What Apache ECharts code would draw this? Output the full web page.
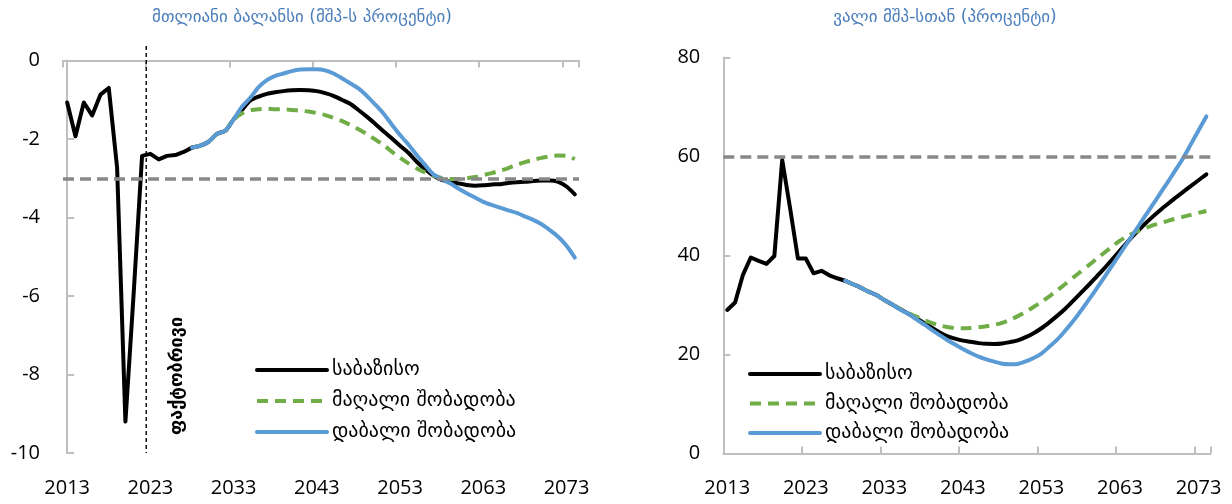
<!DOCTYPE html>
<html><head><meta charset="utf-8">
<script src="https://cdn.jsdelivr.net/npm/echarts@6/dist/echarts.min.js"></script>
<style>html,body{margin:0;padding:0;background:#fff}#c{width:1232px;height:504px}</style>
</head><body><div id="c"></div>
<script>
// ---------- data ----------
const years = []; for (let y = 2013; y <= 2074; y++) years.push(String(y));
const histEnd = 2028;      // last year of the historical/short-term black line
const projStart = 2028;    // first year of the scenario lines
const forecastYear = '2023';

const names = ['საბაზისო', 'მაღალი შობადობა', 'დაბალი შობადობა'];

// overall balance (% of GDP)
const balanceHistory = [-1.07, -1.93, -1.07, -1.40, -0.87, -0.70, -2.73, -9.2, -5.9, -2.43, -2.38, -2.52, -2.43, -2.41, -2.33, -2.22];
const balanceBaseline = [-2.22, -2.17, -2.07, -1.87, -1.79, -1.50, -1.26, -1.02, -0.92, -0.85, -0.81, -0.78, -0.76, -0.75, -0.76, -0.78, -0.83, -0.90, -1.00, -1.10, -1.26, -1.43, -1.61, -1.80, -1.98, -2.17, -2.35, -2.58, -2.77, -2.93, -3.04, -3.09, -3.13, -3.17, -3.19, -3.18, -3.16, -3.15, -3.12, -3.10, -3.09, -3.07, -3.06, -3.06, -3.09, -3.21, -3.41];
const balanceHigh = [-2.22, -2.17, -2.07, -1.87, -1.79, -1.50, -1.35, -1.27, -1.24, -1.23, -1.24, -1.24, -1.26, -1.28, -1.30, -1.34, -1.39, -1.46, -1.54, -1.64, -1.75, -1.87, -2.01, -2.15, -2.32, -2.48, -2.62, -2.75, -2.85, -2.93, -2.99, -3.02, -3.02, -3.00, -2.97, -2.92, -2.87, -2.81, -2.74, -2.66, -2.59, -2.53, -2.48, -2.44, -2.42, -2.43, -2.51];
const balanceLow = [-2.22, -2.17, -2.07, -1.87, -1.79, -1.50, -1.18, -0.95, -0.68, -0.50, -0.39, -0.33, -0.27, -0.23, -0.22, -0.22, -0.25, -0.33, -0.45, -0.58, -0.71, -0.90, -1.12, -1.35, -1.63, -1.90, -2.14, -2.41, -2.66, -2.90, -3.02, -3.13, -3.26, -3.38, -3.49, -3.60, -3.68, -3.75, -3.82, -3.88, -3.97, -4.06, -4.17, -4.32, -4.49, -4.72, -5.02];
const balanceLimit = -3;
const balanceTicks = { min: -10, max: 0, interval: 2 };

// debt (% of GDP)
const debtHistory = [29.0, 30.5, 36.1, 39.6, 38.9, 38.3, 39.9, 59.3, 49.6, 39.4, 39.4, 36.4, 36.9, 36.0, 35.4, 34.9];
const debtBaseline = [34.9, 34.2, 33.5, 32.7, 32.0, 31.0, 30.1, 29.2, 28.3, 27.37, 26.43, 25.47, 24.5, 23.7, 23.2, 22.8, 22.56, 22.3, 22.15, 22.14, 22.24, 22.5, 22.85, 23.5, 24.3, 25.3, 26.5, 27.8, 29.2, 30.8, 32.4, 34.0, 35.7, 37.4, 39.2, 41.0, 42.8, 44.5, 46.1, 47.6, 49.0, 50.3, 51.6, 52.8, 54.0, 55.2, 56.4];
const debtHigh = [34.9, 34.2, 33.5, 32.7, 32.0, 31.0, 30.1, 29.2, 28.45, 27.7, 27.0, 26.4, 25.9, 25.55, 25.35, 25.3, 25.35, 25.5, 25.7, 26.0, 26.4, 27.0, 27.75, 28.65, 29.6, 30.64, 31.75, 32.93, 34.2, 35.47, 36.74, 38.0, 39.28, 40.55, 41.8, 43.0, 44.0, 44.75, 45.4, 46.0, 46.45, 46.95, 47.4, 47.8, 48.2, 48.6, 49.0];
const debtLow = [34.9, 34.2, 33.5, 32.7, 32.0, 31.0, 30.1, 29.1, 28.27, 27.2, 26.14, 25.03, 23.96, 22.94, 22.0, 21.1, 20.3, 19.57, 19.0, 18.55, 18.15, 18.05, 18.1, 18.6, 19.3, 20.2, 21.55, 23.0, 24.76, 26.66, 28.76, 30.98, 33.25, 35.6, 37.97, 40.35, 42.7, 45.1, 47.5, 49.86, 52.25, 54.63, 57.1, 59.56, 62.4, 65.25, 68.1];
const debtLimit = 60;
const debtTicks = { min: 0, max: 80, interval: 20 };

const titles = ['მთლიანი ბალანსი (მშპ-ს პროცენტი)', 'ვალი მშპ-სთან (პროცენტი)'];
const actualLabel = 'ფაქტობრივი';

// ---------- helpers ----------
const NUM_FONT = "'Open Sans', 'DejaVu Sans', sans-serif";
const GEO_FONT = "'DejaVu Sans', sans-serif";
const AX = '#bfbfbf';
const BLACK = '#000000', GREEN = '#70ad47', BLUE = '#5b9bd5', GREY = '#888888';

function hist(arr) { return years.map(y => (+y <= histEnd ? arr[+y - 2013] : null)); }
function proj(arr) { return years.map(y => (+y >= projStart ? arr[+y - projStart] : null)); }

const W = 4;
const DASH = [11, 7];
function lineSeries(name, data, color, xi, yi, dashed, smooth) {
  return {
    type: 'line', name: name, data: data, xAxisIndex: xi, yAxisIndex: yi,
    showSymbol: false, symbol: 'none', smooth: smooth,
    lineStyle: { color: color, width: W, type: dashed ? DASH : 'solid', cap: dashed ? 'butt' : 'round', join: 'round' },
    itemStyle: { color: color }, connectNulls: false, animation: false, silent: true
  };
}
function limitLine(v) {
  return {
    silent: true, symbol: 'none', label: { show: false },
    lineStyle: { color: GREY, width: 3.5, type: [11, 6] },
    data: [{ yAxis: v }], animation: false
  };
}

const fcIndex = years.indexOf(forecastYear) - 0.5;
const SM = 0.25;

const s = [];
// left chart
s.push(lineSeries('hist1', hist(balanceHistory), BLACK, 0, 0, false, false));
s.push(lineSeries(names[0], proj(balanceBaseline), BLACK, 0, 0, false, SM));
s.push(lineSeries(names[1], proj(balanceHigh), GREEN, 0, 0, true, SM));
const lowL = lineSeries(names[2], proj(balanceLow), BLUE, 0, 0, false, SM);
lowL.markLine = limitLine(balanceLimit);
s.push(lowL);
s.push({
  type: 'line', name: 'fc', xAxisIndex: 2, yAxisIndex: 0, clip: false, silent: true, animation: false,
  showSymbol: false, symbol: 'none',
  data: [[fcIndex, 0.37], [fcIndex, balanceTicks.min]],
  lineStyle: { color: '#000', width: 1.4, type: [4, 3] }
});
// right chart
s.push(lineSeries('hist2', hist(debtHistory), BLACK, 3, 1, false, false));
s.push(lineSeries(names[0], proj(debtBaseline), BLACK, 3, 1, false, SM));
s.push(lineSeries(names[1], proj(debtHigh), GREEN, 3, 1, true, SM));
const lowR = lineSeries(names[2], proj(debtLow), BLUE, 3, 1, false, SM);
lowR.markLine = limitLine(debtLimit);
s.push(lowR);

const labelStyle = { fontFamily: NUM_FONT, fontSize: 20, color: '#000' };
const legendText = { fontFamily: GEO_FONT, fontSize: 20, color: '#000', lineHeight: 20 };
const legendCommon = {
  orient: 'vertical', itemWidth: 70, itemHeight: 12, selectedMode: false,
  data: names, textStyle: legendText,
  itemStyle: { opacity: 0, borderWidth: 0 },
  lineStyle: { width: W }
};

const option = {
  animation: false,
  backgroundColor: '#fff',
  grid: [
    { left: 63, top: 60.5, width: 516, height: 392.5, containLabel: false },
    { left: 723.3, top: 57.5, width: 487, height: 396, containLabel: false }
  ],
  xAxis: [
    { type: 'category', gridIndex: 0, data: years, position: 'top', boundaryGap: true,
      axisLine: { show: true, onZero: false, lineStyle: { color: AX, width: 2 } },
      axisTick: { show: true, inside: true, length: 7, interval: 9, lineStyle: { color: AX, width: 2 } },
      axisLabel: { show: false }, splitLine: { show: false } },
    { type: 'category', gridIndex: 0, data: years, position: 'bottom', boundaryGap: true,
      axisLine: { show: false, onZero: false }, axisTick: { show: false },
      axisLabel: Object.assign({ interval: 9, margin: 25 }, labelStyle), splitLine: { show: false } },
    { type: 'value', gridIndex: 0, min: -0.5, max: years.length - 0.5, show: false },
    { type: 'category', gridIndex: 1, data: years, position: 'bottom', boundaryGap: true,
      axisLine: { show: true, onZero: false, lineStyle: { color: AX, width: 2 } },
      axisTick: { show: true, inside: true, length: 7, interval: 9, lineStyle: { color: AX, width: 2 } },
      axisLabel: Object.assign({ interval: 9, margin: 25 }, labelStyle), splitLine: { show: false } }
  ],
  yAxis: [
    { type: 'value', gridIndex: 0, min: balanceTicks.min, max: balanceTicks.max, interval: balanceTicks.interval,
      axisLine: { show: true, lineStyle: { color: AX, width: 2 } },
      axisTick: { show: true, inside: true, length: 7, lineStyle: { color: AX, width: 2 } },
      axisLabel: Object.assign({ margin: 23 }, labelStyle), splitLine: { show: false } },
    { type: 'value', gridIndex: 1, min: debtTicks.min, max: debtTicks.max, interval: debtTicks.interval,
      axisLine: { show: true, lineStyle: { color: AX, width: 2 } },
      axisTick: { show: true, inside: true, length: 7, lineStyle: { color: AX, width: 2 } },
      axisLabel: Object.assign({ margin: 23 }, labelStyle), splitLine: { show: false } }
  ],
  legend: [
    Object.assign({ left: 250, top: 355, itemGap: 11 }, legendCommon),
    Object.assign({ left: 743, top: 359, itemGap: 9.5 }, legendCommon)
  ],
  graphic: [
    { type: 'text', x: 302, y: 18, silent: true,
      style: { text: titles[0], fill: '#4a7ebb', fontSize: 17, fontFamily: GEO_FONT, align: 'center', verticalAlign: 'middle' } },
    { type: 'text', x: 945, y: 18, silent: true,
      style: { text: titles[1], fill: '#4a7ebb', fontSize: 17, fontFamily: GEO_FONT, align: 'center', verticalAlign: 'middle' } },
    { type: 'text', x: 177, y: 376, rotation: Math.PI / 2, silent: true,
      style: { text: actualLabel, fill: '#000', fontSize: 18, fontWeight: 'bold', fontFamily: GEO_FONT, align: 'center', verticalAlign: 'middle' } }
  ],
  series: s
};

const chart = echarts.init(document.getElementById('c'), null, { renderer: 'canvas' });
chart.setOption(option);
</script></body></html>
